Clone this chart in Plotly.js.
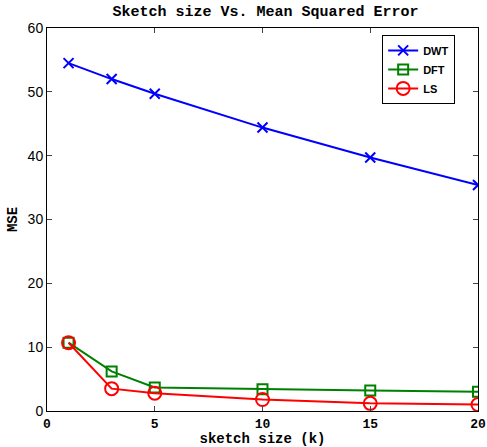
<!DOCTYPE html>
<html><head><meta charset="utf-8">
<script src="https://cdn.plot.ly/plotly-3.0.1.min.js"></script>
<style>html,body{margin:0;padding:0;background:#fff}#c{width:487px;height:447px}</style>
</head><body><div id="c"></div>
<script>
const sketchSize = [1, 3, 5, 10, 15, 20];
const dwt = [54.5, 52.0, 49.7, 44.4, 39.7, 35.4];
const dft = [10.7, 6.2, 3.7, 3.4, 3.2, 3.0];
const ls  = [10.7, 3.5, 2.8, 1.8, 1.2, 1.0];
const xTicks = [0, 5, 10, 15, 20];
const yTicks = [0, 10, 20, 30, 40, 50, 60];

const mono = "Liberation Mono, Courier New, monospace";
const sans = "Liberation Sans, Arial, sans-serif";
const traces = [
  {x: sketchSize, y: dwt, name: 'DWT', mode: 'lines+markers',
   line: {color: '#0000ff', width: 2},
   marker: {symbol: 'x-thin-open', size: 10, color: '#0000ff', line: {color: '#0000ff', width: 2}}},
  {x: sketchSize, y: dft, name: 'DFT', mode: 'lines+markers',
   line: {color: '#008000', width: 2},
   marker: {symbol: 'square-open', size: 10, color: '#008000', line: {color: '#008000', width: 2}}},
  {x: sketchSize, y: ls, name: 'LS', mode: 'lines+markers',
   line: {color: '#ff0000', width: 2},
   marker: {symbol: 'circle-open', size: 13, color: '#ff0000', line: {color: '#ff0000', width: 2}}}
];
const layout = {
  width: 487, height: 447,
  margin: {l: 47, r: 9, t: 28, b: 36},
  paper_bgcolor: '#fff', plot_bgcolor: '#fff',
  title: {text: '<b>Sketch size Vs. Mean Squared Error</b>', font: {family: mono, size: 15, color: '#000'},
          x: 0.545, xanchor: 'center', y: 0.975, yanchor: 'middle'},
  xaxis: {range: [0, 20], tickvals: xTicks, ticktext: xTicks.map(String), ticks: 'inside', ticklen: 5,
          showline: true, mirror: 'ticks', linecolor: '#000', linewidth: 1, showgrid: false, zeroline: false,
          tickfont: {family: mono, size: 13, color: '#000', weight: 'bold'},
          title: {text: '<b>sketch size (k)</b>', font: {family: mono, size: 14, color: '#000'}, standoff: 0}},
  yaxis: {range: [0, 60], tickvals: yTicks, ticktext: yTicks.map(String), ticks: 'inside', ticklen: 5,
          showline: true, mirror: 'ticks', linecolor: '#000', linewidth: 1, showgrid: false, zeroline: false,
          tickfont: {family: sans, size: 14, color: '#000'},
          title: {text: '<b>MSE</b>', font: {family: mono, size: 14, color: '#000'}, standoff: 6}},
  legend: {x: 0.947, y: 0.982, xanchor: 'right', yanchor: 'top', bgcolor: '#fff', bordercolor: '#000', borderwidth: 1,
           font: {family: sans, size: 11, color: '#000', weight: 'bold'},
           tracegroupgap: 0, itemwidth: 30}
};
Plotly.newPlot('c', traces, layout, {displayModeBar: false, staticPlot: true});
</script></body></html>
